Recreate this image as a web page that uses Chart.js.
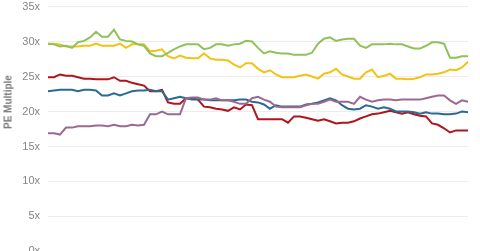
<!DOCTYPE html>
<html>
<head>
<meta charset="utf-8">
<script src="https://cdn.jsdelivr.net/npm/chart.js@4"></script>
<style>
  html, body { margin: 0; padding: 0; background: #fff; overflow: hidden; }
  body { width: 480px; height: 251px; position: relative; }
  #wrap { position: absolute; left: 0; top: -8px; width: 480px; height: 274px; }
  #ytitle {
    position: absolute; left: 8px; top: 102px;
    transform: translate(-50%, -50%) rotate(-90deg);
    font: bold 10px "Liberation Sans", Arial, sans-serif; color: #7a7a7a;
    white-space: nowrap;
  }
</style>
</head>
<body>
<div id="wrap"><canvas id="c"></canvas></div>
<div id="ytitle">PE Multiple</div>
<script>
const yTicks = ["0x", "5x", "10x", "15x", "20x", "25x", "30x", "35x"];

const green = [29.7,29.6,29.3,29.4,29.1,29.9,30.1,30.6,31.4,30.7,30.7,31.7,30.3,30.1,30.0,29.6,29.4,28.3,27.9,27.9,28.4,28.9,29.3,29.6,29.6,29.6,28.9,29.1,29.6,29.6,29.4,29.6,29.7,30.1,30.0,29.1,28.3,28.6,28.4,28.3,28.3,28.1,28.1,28.1,28.4,29.7,30.4,30.6,30.1,30.3,30.4,30.4,29.4,29.1,29.6,29.6,29.6,29.7,29.6,29.6,29.3,29.0,29.0,29.4,29.9,29.9,29.7,27.7,27.7,27.9,27.9];
const yellow = [29.7,29.7,29.6,29.3,29.3,29.3,29.4,29.4,29.7,29.4,29.4,29.4,29.7,29.1,29.6,29.6,29.6,28.6,28.7,28.9,27.9,27.6,28.0,27.7,27.6,27.6,28.3,27.6,27.4,27.4,27.3,26.7,26.3,26.9,26.9,26.1,25.6,25.9,25.3,24.9,24.9,24.9,25.1,25.3,25.0,24.7,25.4,25.6,26.1,25.3,25.0,24.7,24.7,25.6,26.0,24.9,25.1,25.4,24.7,24.7,24.6,24.7,24.9,25.3,25.3,25.4,25.6,26.0,25.9,26.3,27.1];
const red = [24.9,24.9,25.3,25.1,25.1,24.9,24.7,24.7,24.6,24.6,24.6,24.9,24.4,24.4,24.1,23.9,23.7,22.9,22.9,23.1,21.3,21.1,21.1,21.9,21.9,21.7,20.7,20.6,20.4,20.3,20.1,20.6,20.3,21.0,20.9,18.9,18.9,18.9,18.9,18.9,18.4,19.3,19.3,19.1,18.9,18.7,18.9,18.6,18.3,18.4,18.4,18.6,19.0,19.3,19.6,19.7,19.9,20.1,19.9,19.7,19.9,19.6,19.4,19.3,18.3,18.1,17.6,17.0,17.3,17.3,17.3];
const blue = [22.9,23.0,23.1,23.1,23.1,22.9,23.1,23.1,23.0,22.3,22.3,22.6,22.3,22.6,22.9,23.0,23.0,23.1,22.9,22.9,21.7,21.9,22.1,21.9,21.7,21.7,21.7,21.6,21.6,21.6,21.6,21.6,21.7,21.7,21.4,21.3,21.0,20.4,20.9,20.7,20.7,20.7,20.7,21.0,21.1,21.3,21.6,21.9,21.6,20.9,20.4,20.3,20.4,20.9,20.7,20.4,20.6,20.4,20.0,20.0,20.0,19.9,19.7,19.9,19.7,19.7,19.6,19.6,19.7,20.0,19.9];
const purple = [16.9,16.9,16.7,17.7,17.7,17.9,17.9,17.9,18.0,18.0,17.9,18.1,17.9,17.9,18.1,18.0,18.1,19.6,19.6,20.0,19.6,19.6,19.6,21.9,22.0,22.0,21.7,21.7,21.9,21.6,21.6,21.4,21.1,21.1,21.9,22.1,21.7,21.4,20.7,20.6,20.6,20.6,20.6,20.9,21.1,21.1,21.4,21.7,21.4,21.4,21.4,21.1,22.1,21.7,21.4,21.6,21.7,21.7,21.6,21.7,21.7,21.7,21.7,21.9,22.1,22.3,22.3,21.6,21.1,21.6,21.4];

const periods = green.map((_, i) => "P" + (i + 1));

function ds(data, color) {
  return { data, borderColor: color, borderWidth: 2, pointRadius: 0, tension: 0, fill: false };
}

new Chart(document.getElementById("c"), {
  type: "line",
  data: {
    labels: periods,
    datasets: [
      ds(green, "#8fc25a"),
      ds(yellow, "#f2c314"),
      ds(purple, "#9b6a8f"),
      ds(blue, "#2a6a93"),
      ds(red, "#b0141c")
    ]
  },
  options: {
    responsive: true,
    maintainAspectRatio: false,
    animation: false,
    layout: { padding: { left: 0, right: 12, top: 0, bottom: 0 } },
    plugins: { legend: { display: false }, tooltip: { enabled: false } },
    scales: {
      x: { display: false, offset: false },
      y: {
        min: 0, max: 35,
        border: { display: false },
        grid: { color: "#ececec", lineWidth: 1, drawTicks: false },
        afterFit: (s) => { s.width = 48; },
        ticks: {
          stepSize: 5,
          padding: 8,
          color: "#858585",
          font: { family: "'Liberation Sans', Arial, sans-serif", size: 11 },
          callback: (v) => yTicks[v / 5]
        }
      }
    }
  }
});
</script>
</body>
</html>
